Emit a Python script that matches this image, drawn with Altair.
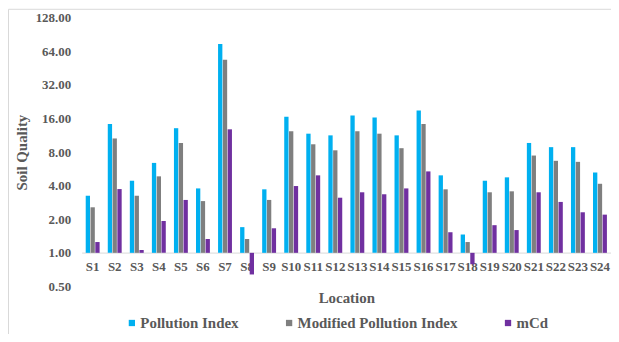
import altair as alt
import pandas as pd

locations = [f"S{i}" for i in range(1, 25)]
series_names = ["Pollution Index", "Modified Pollution Index", "mCd"]
series_colors = ["#00B0F0", "#7F7F7F", "#7030A0"]

pollution_index = [3.25, 14.3, 4.43, 6.4, 13.1, 3.78, 74.6, 1.70, 3.71, 16.6, 11.7, 11.3,
                   17.0, 16.3, 11.3, 18.9, 4.95, 1.46, 4.43, 4.75, 9.66, 8.86, 8.86, 5.25]
modified_pi = [2.56, 10.6, 3.25, 4.85, 9.66, 2.91, 53.8, 1.33, 2.98, 12.3, 9.4, 8.3,
               12.3, 11.7, 8.67, 14.3, 3.71, 1.25, 3.49, 3.56, 7.45, 6.68, 6.54, 4.16]
mcd = [1.25, 3.73, 1.06, 1.93, 2.98, 1.33, 12.8, 0.64, 1.66, 3.97, 4.95, 3.12,
       3.49, 3.35, 3.78, 5.37, 1.53, 0.79, 1.77, 1.60, 3.49, 2.86, 2.31, 2.20]

y_ticks = [0.5, 1, 2, 4, 8, 16, 32, 64, 128]

rows = []
for name, vals in zip(series_names, [pollution_index, modified_pi, mcd]):
    for loc, v in zip(locations, vals):
        rows.append({"Location": loc, "Series": name, "Value": v, "Base": 1.0})
df = pd.DataFrame(rows)

FONT = "Liberation Serif"
TXT = "#595959"
W, H = 532, 270

bars = alt.Chart(df).mark_bar().encode(
    x=alt.X("Location:N", sort=locations,
            scale=alt.Scale(paddingInner=0.37, paddingOuter=0.185),
            axis=alt.Axis(orient="bottom", offset=-34, domainColor="#d9d9d9", ticks=False,
                          labelAngle=0, labelFont=FONT, labelFontSize=13, labelFontWeight="bold",
                          labelColor=TXT, labelPadding=8, title="Location",
                          titleFont=FONT, titleFontSize=15, titleFontWeight="bold",
                          titleColor=TXT, titleY=45, titleBaseline="middle",
                          titleAlign="center")),
    xOffset=alt.XOffset("Series:N", sort=series_names, scale=alt.Scale(paddingInner=0.1)),
    y=alt.Y("Value:Q",
            scale=alt.Scale(type="log", base=2, domain=[0.5, 128], nice=False),
            axis=alt.Axis(values=y_ticks, format=".2f", grid=False, ticks=False, domain=False,
                          labelFont=FONT, labelFontSize=13, labelFontWeight="bold",
                          labelColor=TXT, labelPadding=11, title="Soil Quality",
                          titleFont=FONT, titleFontSize=15, titleFontWeight="bold",
                          titleColor=TXT, titlePadding=6)),
    y2="Base:Q",
    color=alt.Color("Series:N", sort=series_names,
                    scale=alt.Scale(domain=series_names, range=series_colors),
                    legend=alt.Legend(orient="none", legendX=43, legendY=299,
                                      direction="horizontal", title=None,
                                      symbolType="square", symbolSize=40,
                                      symbolStrokeWidth=0, labelOffset=1,
                                      labelFont=FONT, labelFontSize=15,
                                      labelFontWeight="bold", labelColor=TXT,
                                      columnPadding=43, labelLimit=300)),
)

border = alt.Chart(pd.DataFrame({"a": [0]})).mark_rect(
    filled=False, stroke="#d9d9d9", strokeWidth=1
).encode(x=alt.value(-73.5), x2=alt.value(W + 40), y=alt.value(-8.5), y2=alt.value(H + 80))

chart = alt.layer(border, bars).properties(
    width=W, height=H,
    autosize=alt.AutoSizeParams(type="none"),
    padding={"left": 74, "top": 9, "right": 0, "bottom": 47},
).configure_view(stroke=None)

chart.save("out.html", embed_options={"renderer": "svg", "actions": False})
